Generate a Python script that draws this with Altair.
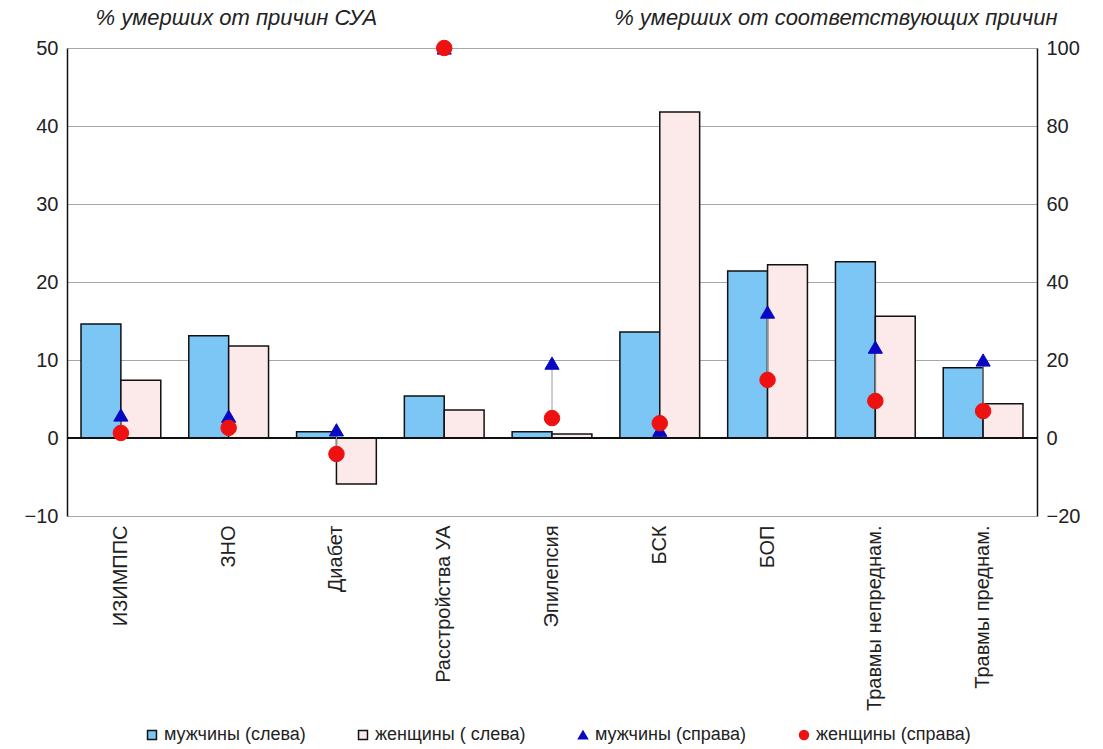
import altair as alt
import pandas as pd

# Causes of death (x axis)
categories = ["ИЗИМППС", "ЗНО", "Диабет", "Расстройства УА", "Эпилепсия",
              "БСК", "БОП", "Травмы непреднам.", "Травмы преднам."]

# Left axis: % of deaths from SUA-related causes
men_left = [14.6, 13.1, 0.8, 5.4, 0.8, 13.6, 21.4, 22.6, 9.0]
women_left = [7.4, 11.8, -5.9, 3.6, 0.5, 41.8, 22.2, 15.6, 4.4]

# Right axis: % of deaths from the corresponding causes
men_right = [5.9, 5.6, 2.1, 100, 19.2, 2.0, 32.3, 23.3, 20.0]
women_right = [1.3, 2.6, -4.1, 100, 5.1, 3.8, 14.9, 9.5, 6.9]

series = ["мужчины (слева)", "женщины ( слева)", "мужчины (справа)", "женщины (справа)"]
left_ticks = [-10, 0, 10, 20, 30, 40, 50]
right_ticks = [-20, 0, 20, 40, 60, 80, 100]

FONT = "Liberation Sans"
W, H = 970, 468

bars_df = pd.DataFrame(
    [{"cat": c, "series": series[0], "v": v} for c, v in zip(categories, men_left)]
    + [{"cat": c, "series": series[1], "v": v} for c, v in zip(categories, women_left)]
)
pts_df = pd.DataFrame(
    [{"cat": c, "series": series[2], "v": v} for c, v in zip(categories, men_right)]
    + [{"cat": c, "series": series[3], "v": v} for c, v in zip(categories, women_right)]
)
rng_df = pd.DataFrame({"cat": categories, "m": men_right, "w": women_right})

x_enc = alt.X(
    "cat:N", sort=categories, title=None,
    scale=alt.Scale(paddingInner=0.26, paddingOuter=0.13),
    axis=alt.Axis(labelAngle=-90, labelAlign="right", labelBaseline="middle",
                  labelPadding=9, ticks=False, domain=False, labelFontSize=20,
                  labelFont=FONT, labelColor="#222", labelLimit=300),
)

legend = alt.Legend(orient="none", legendX=76, legendY=678, direction="horizontal",
                    title=None, columns=4, columnPadding=48, symbolSize=80,
                    labelFontSize=18, labelFont=FONT, labelColor="#222", labelOffset=3)

color_scale = alt.Scale(domain=series, range=["#7CC6F6", "#FCE9E9", "#0808C4", "#EE1111"])
shape_scale = alt.Scale(domain=series, range=["square", "square", "triangle-up", "circle"])
stroke_scale = alt.Scale(domain=series, range=["#111111", "#111111", "#0808C4", "#EE1111"])

left_y = alt.Scale(domain=[-10, 50], nice=False, zero=False)
right_y = alt.Scale(domain=[-20, 100], nice=False, zero=False)

right_axis = alt.Axis(orient="right", values=right_ticks, grid=False, ticks=False,
                      domainColor="#111111", domainWidth=1.5,
                      labelFontSize=20, labelFont=FONT, labelColor="#222", labelPadding=9,
                      title="% умерших от соответствующих причин", titleAngle=0,
                      titleAlign="right", titleBaseline="alphabetic", titleX=20, titleY=-24,
                      titleFont=FONT, titleFontSize=22, titleFontStyle="italic",
                      titleFontWeight="normal", titleColor="#222")

bars = alt.Chart(bars_df).mark_bar(stroke="#111111", strokeWidth=1.5).encode(
    x=x_enc,
    xOffset=alt.XOffset("series:N", sort=series[:2], scale=alt.Scale(paddingInner=0, paddingOuter=0)),
    y=alt.Y("v:Q", scale=left_y,
            axis=alt.Axis(orient="left", values=left_ticks, grid=True, gridColor="#A8A8A8",
                          gridWidth=1, ticks=False, domainColor="#111111", domainWidth=1.5,
                          labelFontSize=20, labelFont=FONT, labelColor="#222", labelPadding=9,
                          title="% умерших от причин СУА", titleAngle=0, titleAlign="left",
                          titleBaseline="alphabetic", titleX=28, titleY=-24,
                          titleFont=FONT, titleFontSize=22, titleFontStyle="italic",
                          titleFontWeight="normal", titleColor="#222")),
    color=alt.Color("series:N", scale=color_scale, legend=legend),
)

zero = alt.Chart(bars_df).mark_rule(color="#111111", strokeWidth=1.5).encode(
    y=alt.datum(0, scale=left_y)
)

left = alt.layer(bars, zero)

links = alt.Chart(rng_df).mark_rule(color="#9A9A9A", strokeWidth=1).encode(
    x=alt.X("cat:N", sort=categories),
    y=alt.Y("m:Q", scale=right_y, axis=right_axis),
    y2="w:Q",
)

points = alt.Chart(pts_df).mark_point(filled=True, opacity=1, strokeWidth=1).encode(
    x=alt.X("cat:N", sort=categories),
    y=alt.Y("v:Q", scale=right_y, axis=right_axis),
    color=alt.Color("series:N", scale=color_scale, legend=legend),
    shape=alt.Shape("series:N", scale=shape_scale, legend=legend),
    stroke=alt.Stroke("series:N", scale=stroke_scale, legend=legend),
    size=alt.condition(alt.datum.series == series[3], alt.value(240), alt.value(200)),
)

right = alt.layer(links, points)

chart = (
    alt.layer(left, right)
    .resolve_scale(y="independent")
    .properties(
        width=W, height=H,
        autosize=alt.AutoSizeParams(type="none"),
        padding={"left": 67, "top": 48, "right": 1103 - 67 - W, "bottom": 749 - 48 - H},
        background="white",
    )
    .configure_view(stroke=None)
)

chart.save("out.html", embed_options={"renderer": "svg", "actions": False})
